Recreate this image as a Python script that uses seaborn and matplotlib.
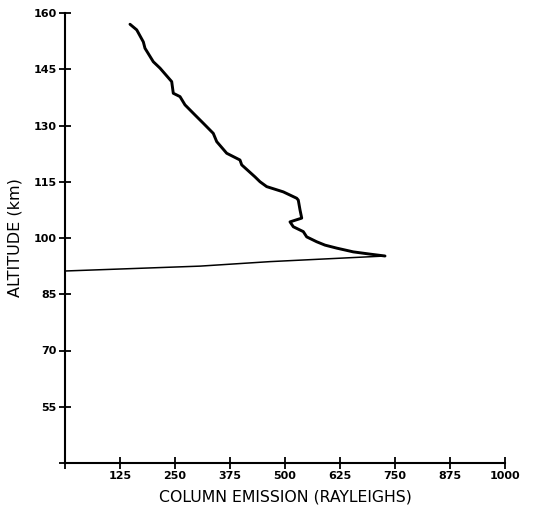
import matplotlib
matplotlib.use("Agg")
import matplotlib.pyplot as plt
import seaborn as sns
import pandas as pd

# Profile (column emission in Rayleighs vs altitude in km)
emission = [147.7, 163, 178, 181.8, 200.7, 215.9, 242.5, 246.1, 261.4, 272.7,
            295.5, 314.3, 337, 344.8, 367.5, 397.7, 401.6, 431.8, 443.2, 458.4,
            496.1, 526.6, 530.2, 534.1, 538, 511.4, 518.9, 541.6, 549.3, 572,
            590.9, 617.5, 655.2, 693.2, 727.3]
altitude = [157.0, 155.5, 152.3, 150.6, 147.0, 145.3, 141.7, 138.6, 137.7, 135.5,
            132.8, 130.6, 127.9, 125.7, 122.6, 120.8, 119.5, 116.3, 115.0, 113.7,
            112.3, 110.6, 110.1, 107.5, 105.3, 104.3, 103.0, 101.7, 100.3, 99.0,
            98.1, 97.3, 96.3, 95.7, 95.2]
# thin lower branch from the peak back to zero
low_emission = [727.3, 465.9, 306.8, 0.0]
low_altitude = [95.2, 93.7, 92.5, 91.2]

x_ticks = [125, 250, 375, 500, 625, 750, 875, 1000]
y_ticks = [55, 70, 85, 100, 115, 130, 145, 160]

sns.set_style("ticks")
plt.rcParams['font.family'] = ['DejaVu Sans']

fig = plt.figure(figsize=(5.33, 5.14), dpi=100)
ax = fig.add_axes([65/533, 1 - 463/514, (505 - 65)/533, (463 - 13)/514])

df_up = pd.DataFrame({"emission": emission, "altitude": altitude})
df_lo = pd.DataFrame({"emission": low_emission, "altitude": low_altitude})
sns.lineplot(data=df_up, x="emission", y="altitude", sort=False, estimator=None,
             color="black", linewidth=2.1, ax=ax)
sns.lineplot(data=df_lo, x="emission", y="altitude", sort=False, estimator=None,
             color="black", linewidth=1.1, ax=ax)

ax.set_xlim(0, 1000)
ax.set_ylim(40, 160)
ax.set_xticks(x_ticks)
ax.set_yticks(y_ticks)
ax.set_xticks([0], minor=True)
ax.set_yticks([40], minor=True)
ax.set_xticklabels([str(t) for t in x_ticks], fontsize=8, fontweight="bold")
ax.set_yticklabels([str(t) for t in y_ticks], fontsize=8, fontweight="bold")
ax.tick_params(which="both", direction="inout", length=8, width=1.3, pad=2,
               colors="black", labelcolor="black")
sns.despine(ax=ax)
for s in ["left", "bottom"]:
    ax.spines[s].set_linewidth(1.5)
    ax.spines[s].set_color("black")

ax.set_xlabel("COLUMN EMISSION (RAYLEIGHS)", fontsize=11.3, labelpad=6, color="black")
ax.set_ylabel("ALTITUDE (km)", fontsize=11.5, labelpad=8, color="black")

fig.savefig("out.png", dpi=100)
